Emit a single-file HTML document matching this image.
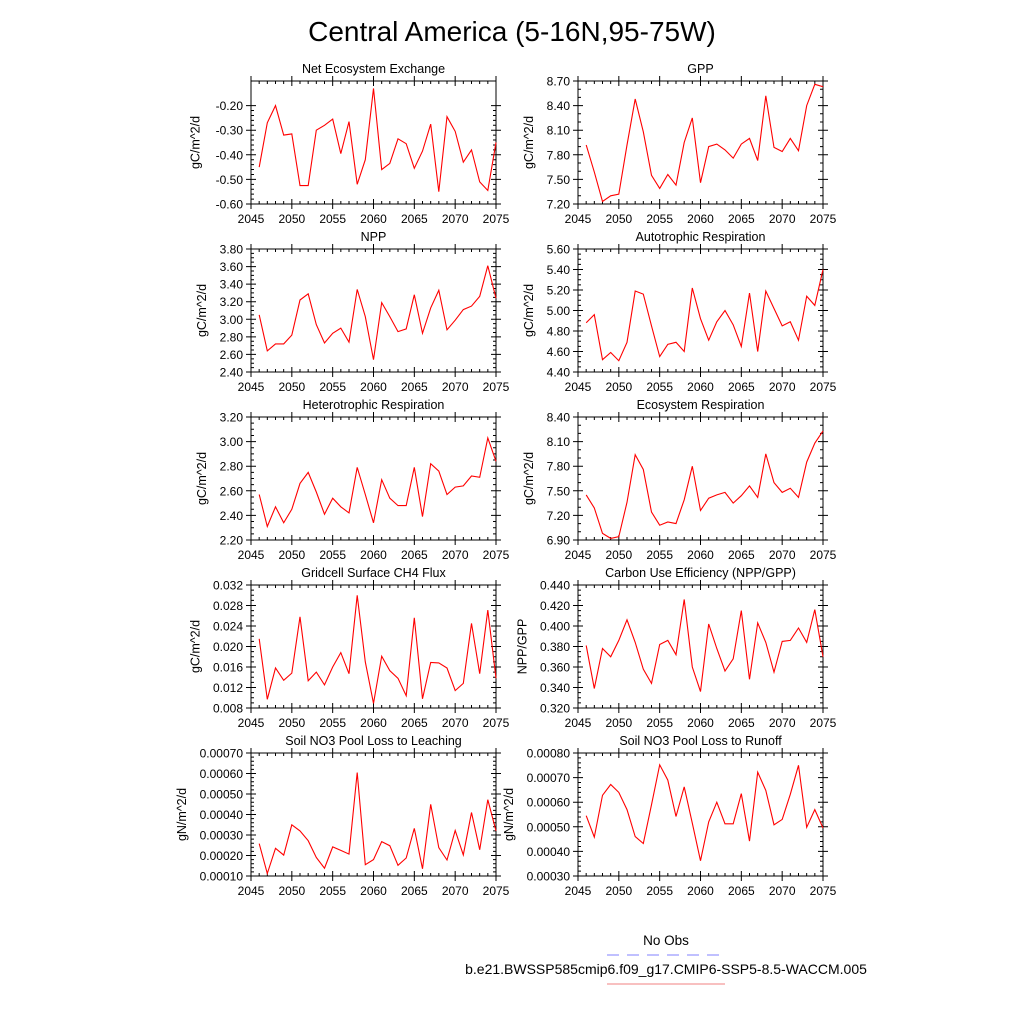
<!DOCTYPE html>
<html><head><meta charset="utf-8"><style>
html,body{margin:0;padding:0;background:#fff;}
svg{display:block;font-family:"Liberation Sans",sans-serif;}
</style></head><body>
<svg id="fig" width="1024" height="1024" viewBox="0 0 1024 1024">
<text x="512" y="41" text-anchor="middle" font-size="28">Central America (5-16N,95-75W)</text>
<g>
<text x="666" y="945" text-anchor="middle" font-size="13.5">No Obs</text>
<line x1="607" y1="955" x2="725" y2="955" stroke="#8080ff" stroke-width="1" stroke-dasharray="12,8"/>
<text x="666" y="974" text-anchor="middle" font-size="14">b.e21.BWSSP585cmip6.f09_g17.CMIP6-SSP5-8.5-WACCM.005</text>
<line x1="607" y1="984" x2="725" y2="984" stroke="#f08080" stroke-width="1"/>
</g>
</svg>
<script>
const years = [2046,2047,2048,2049,2050,2051,2052,2053,2054,2055,2056,2057,2058,2059,2060,2061,2062,2063,2064,2065,2066,2067,2068,2069,2070,2071,2072,2073,2074,2075];
const xTicks = [2045,2050,2055,2060,2065,2070,2075];
const neeVals = [-0.45,-0.27,-0.20,-0.32,-0.315,-0.525,-0.525,-0.30,-0.28,-0.255,-0.395,-0.265,-0.52,-0.42,-0.13,-0.46,-0.435,-0.335,-0.355,-0.455,-0.385,-0.275,-0.55,-0.245,-0.305,-0.43,-0.38,-0.51,-0.545,-0.35];
const gppVals = [7.92,7.59,7.23,7.30,7.32,7.92,8.48,8.08,7.55,7.39,7.56,7.43,7.95,8.25,7.46,7.90,7.93,7.86,7.76,7.93,8.00,7.73,8.52,7.89,7.84,8.00,7.85,8.40,8.66,8.63];
const nppVals = [3.05,2.64,2.72,2.72,2.82,3.22,3.29,2.94,2.73,2.84,2.90,2.74,3.34,3.03,2.54,3.19,3.03,2.86,2.89,3.28,2.84,3.13,3.33,2.88,2.99,3.11,3.15,3.26,3.61,3.24];
const arVals = [4.88,4.96,4.52,4.59,4.51,4.69,5.19,5.16,4.85,4.55,4.67,4.69,4.60,5.22,4.92,4.71,4.89,5.00,4.86,4.65,5.17,4.60,5.19,5.02,4.85,4.89,4.71,5.14,5.05,5.40];
const hrVals = [2.57,2.31,2.47,2.34,2.45,2.66,2.75,2.59,2.41,2.54,2.47,2.42,2.79,2.57,2.34,2.69,2.54,2.48,2.48,2.79,2.39,2.82,2.76,2.57,2.63,2.64,2.72,2.71,3.03,2.84];
const erVals = [7.45,7.29,6.98,6.92,6.94,7.36,7.94,7.76,7.24,7.08,7.12,7.10,7.39,7.80,7.26,7.41,7.45,7.48,7.35,7.44,7.56,7.42,7.95,7.60,7.48,7.53,7.42,7.85,8.08,8.23];
const ch4Vals = [0.0215,0.0097,0.0158,0.0134,0.0148,0.0258,0.0133,0.0150,0.0125,0.0160,0.0188,0.0147,0.0300,0.0170,0.0089,0.0181,0.0153,0.0138,0.0104,0.0256,0.0098,0.0169,0.0168,0.0158,0.0114,0.0128,0.0245,0.0147,0.0271,0.0138];
const cueVals = [0.381,0.339,0.378,0.370,0.386,0.406,0.384,0.358,0.344,0.382,0.386,0.372,0.426,0.360,0.336,0.402,0.378,0.356,0.368,0.415,0.348,0.403,0.384,0.355,0.385,0.386,0.398,0.384,0.416,0.370];
const leachVals = [0.000258,0.000112,0.000235,0.000202,0.000350,0.000320,0.000272,0.000190,0.000138,0.000242,0.000225,0.000207,0.000605,0.000155,0.000180,0.000268,0.000248,0.000152,0.000188,0.000332,0.000135,0.000450,0.000238,0.000178,0.000322,0.000203,0.000410,0.000228,0.000472,0.000320];
const runoffVals = [0.000545,0.000458,0.000628,0.000672,0.000640,0.000570,0.000460,0.000432,0.000590,0.000752,0.000690,0.000542,0.000662,0.000515,0.000362,0.000520,0.000600,0.000512,0.000512,0.000635,0.000442,0.000722,0.000648,0.000508,0.000530,0.000632,0.000750,0.000498,0.000570,0.000495];
const neeTicks = [-0.60,-0.50,-0.40,-0.30,-0.20];
const gppTicks = [7.20,7.50,7.80,8.10,8.40,8.70];
const nppTicks = [2.40,2.60,2.80,3.00,3.20,3.40,3.60,3.80];
const arTicks = [4.40,4.60,4.80,5.00,5.20,5.40,5.60];
const hrTicks = [2.20,2.40,2.60,2.80,3.00,3.20];
const erTicks = [6.90,7.20,7.50,7.80,8.10,8.40];
const ch4Ticks = [0.008,0.012,0.016,0.020,0.024,0.028,0.032];
const cueTicks = [0.320,0.340,0.360,0.380,0.400,0.420,0.440];
const leachTicks = [0.00010,0.00020,0.00030,0.00040,0.00050,0.00060,0.00070];
const runoffTicks = [0.00030,0.00040,0.00050,0.00060,0.00070,0.00080];

const panels = [
 {name:'nee',title:'Net Ecosystem Exchange',unit:'gC/m^2/d',vals:neeVals,ticks:neeTicks,ymin:-0.60,ymax:-0.10,dec:2,col:0,row:0,minor:5},
 {name:'gpp',title:'GPP',unit:'gC/m^2/d',vals:gppVals,ticks:gppTicks,ymin:7.20,ymax:8.70,dec:2,col:1,row:0,minor:3},
 {name:'npp',title:'NPP',unit:'gC/m^2/d',vals:nppVals,ticks:nppTicks,ymin:2.40,ymax:3.80,dec:2,col:0,row:1,minor:4},
 {name:'autotrophic-respiration',title:'Autotrophic Respiration',unit:'gC/m^2/d',vals:arVals,ticks:arTicks,ymin:4.40,ymax:5.60,dec:2,col:1,row:1,minor:4},
 {name:'heterotrophic-respiration',title:'Heterotrophic Respiration',unit:'gC/m^2/d',vals:hrVals,ticks:hrTicks,ymin:2.20,ymax:3.20,dec:2,col:0,row:2,minor:4},
 {name:'ecosystem-respiration',title:'Ecosystem Respiration',unit:'gC/m^2/d',vals:erVals,ticks:erTicks,ymin:6.90,ymax:8.40,dec:2,col:1,row:2,minor:3},
 {name:'ch4-flux',title:'Gridcell Surface CH4 Flux',unit:'gC/m^2/d',vals:ch4Vals,ticks:ch4Ticks,ymin:0.008,ymax:0.032,dec:3,col:0,row:3,minor:4},
 {name:'carbon-use-efficiency',title:'Carbon Use Efficiency (NPP/GPP)',unit:'NPP/GPP',vals:cueVals,ticks:cueTicks,ymin:0.320,ymax:0.440,dec:3,col:1,row:3,minor:4},
 {name:'no3-leaching',title:'Soil NO3 Pool Loss to Leaching',unit:'gN/m^2/d',vals:leachVals,ticks:leachTicks,ymin:0.0001,ymax:0.0007,dec:5,col:0,row:4,minor:5},
 {name:'no3-runoff',title:'Soil NO3 Pool Loss to Runoff',unit:'gN/m^2/d',vals:runoffVals,ticks:runoffTicks,ymin:0.0003,ymax:0.0008,dec:5,col:1,row:4,minor:5}
];
const NS='http://www.w3.org/2000/svg';
const svg=document.getElementById('fig');
function mk(tag,attrs,parent){const e=document.createElementNS(NS,tag);for(const k in attrs)e.setAttribute(k,attrs[k]);parent.appendChild(e);return e;}
const colX=[251,578], W=245, H=123, rowY=[81,249,417,585,753];
panels.forEach(p=>{
  const L=colX[p.col], T=rowY[p.row], R=L+W, B=T+H;
  const g=mk('g',{},svg);
  
  
  const xs=v=>L+(v-2045)/(2075-2045)*W;
  const ys=v=>B-(v-p.ymin)/(p.ymax-p.ymin)*H;
  const t=mk('text',{x:(L+R)/2,y:T-8,'text-anchor':'middle','font-size':12.5},g);
  t.textContent=p.title;
  
  
  const maxLen=Math.max(...p.ticks.map(v=>v.toFixed(p.dec).length));
  const lblX=L-8-maxLen*6.7-10;
  const yl=mk('text',{x:0,y:0,'text-anchor':'middle','font-size':12.5,transform:`translate(${lblX},${(T+B)/2}) rotate(-90)`},g);
  yl.textContent=p.unit;
  
  
  let d='';
  xTicks.forEach(v=>{const x=xs(v);d+=`M${x},${B+5}V${B-5}M${x},${T-5}V${T+5}`;});
  for(let v=2046;v<2075;v++){if(v%5){const x=xs(v);d+=`M${x},${B}V${B-3}M${x},${T}V${T+3}`;}}
  const step=p.ticks[1]-p.ticks[0];
  p.ticks.forEach(v=>{const y=ys(v);d+=`M${L-5},${y}H${L+5}M${R-5},${y}H${R+5}`;});
  for(let i=0;i<p.ticks.length-1;i++){for(let k=1;k<p.minor;k++){const y=ys(p.ticks[i]+step*k/p.minor);d+=`M${L},${y}H${L+3}M${R},${y}H${R-3}`;}}
  const tk=mk('path',{d:d,stroke:'#000','stroke-width':1,fill:'none'},g);
  
  
  const fr=mk('rect',{x:L,y:T,width:W,height:H,fill:'none',stroke:'#000','stroke-width':1},g);
  
  
  p.ticks.forEach(v=>{
    const tl=mk('text',{x:L-8,y:ys(v)+4.5,'text-anchor':'end','font-size':12},g);
    tl.textContent=v.toFixed(p.dec);
    
    
  });
  xTicks.forEach(v=>{
    const tl=mk('text',{x:xs(v),y:B+19,'text-anchor':'middle','font-size':12},g);
    tl.textContent=String(v);
    
    
  });
  const pts=p.vals.map((v,i)=>xs(years[i]).toFixed(1)+','+ys(v).toFixed(1)).join(' ');
  const ln=mk('polyline',{points:pts,fill:'none',stroke:'#ff0000','stroke-width':1.1},g);
  
  
});
</script>
</body></html>
